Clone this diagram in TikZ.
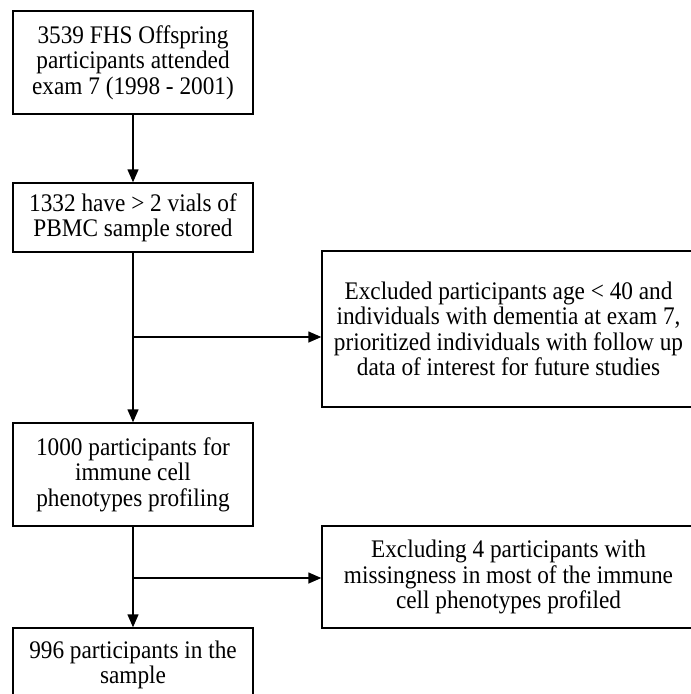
\documentclass[tikz,border=0pt]{standalone}
\usepackage{fontspec}
\setmainfont{Liberation Serif}[FakeStretch=0.92]
\usetikzlibrary{arrows.meta}
\tikzset{
    box/.style={draw, line width=1.4pt, align=center, inner sep=0pt,
        font=\fontsize{25.3}{25.4}\selectfont},
    arr/.style={line width=1.4pt, -{Triangle[length=13pt,width=11pt]}}
}
\begin{document}
\begin{tikzpicture}[x=1pt,y=-1pt]
    \useasboundingbox (0,0) rectangle (691,694);
    \node[box, minimum width=240pt, minimum height=103pt] (exam) at (133,62.5)
        {3539 FHS Offspring\\participants attended\\exam 7 (1998 - 2001)};
    \node[box, minimum width=240pt, minimum height=69pt] (pbmc) at (133,217.5)
        {1332 have > 2 vials of\\PBMC sample stored};
    \node[box, minimum width=373pt, minimum height=156pt] (excl) at (508.5,329)
        {Excluded participants age < 40 and\\individuals with dementia at exam 7,\\prioritized individuals with follow up\\data of interest for future studies};
    \node[box, minimum width=240pt, minimum height=103pt] (prof) at (133,474.5)
        {1000 participants for\\immune cell\\phenotypes profiling};
    \node[box, minimum width=373pt, minimum height=102pt] (miss) at (508.5,577)
        {Excluding 4 participants with\\missingness in most of the immune\\cell phenotypes profiled};
    \node[box, minimum width=240pt, minimum height=74pt] (final) at (133,665)
        {996 participants in the\\sample};
    \coordinate (j1) at (133,337);
    \coordinate (j2) at (133,578);
    \draw[arr] (exam) -- (pbmc);
    \draw[arr] (pbmc) -- (prof);
    \draw[arr] (j1) -- (j1 -| excl.west);
    \draw[arr] (prof) -- (final);
    \draw[arr] (j2) -- (j2 -| miss.west);
\end{tikzpicture}
\end{document}
